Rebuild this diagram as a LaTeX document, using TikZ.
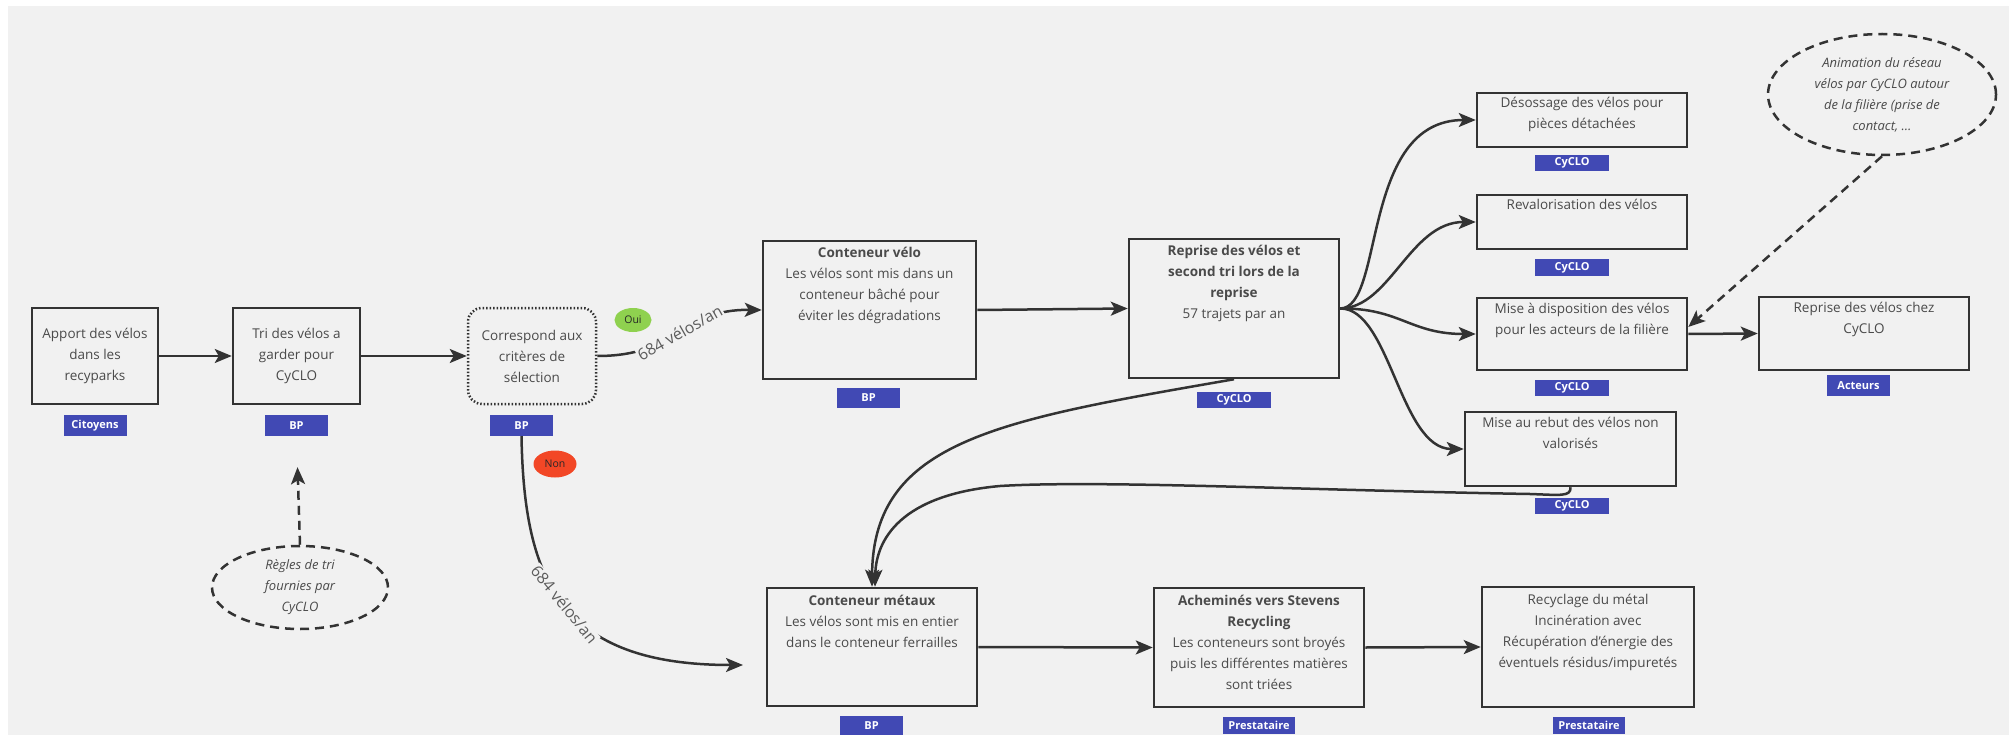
\documentclass[tikz,border=0pt]{standalone}
\usepackage{fontspec}
\setmainfont{Open Sans}
\usetikzlibrary{arrows.meta,shapes.geometric}
\definecolor{bgc}{HTML}{F1F1F1}
\definecolor{linec}{HTML}{333333}
\definecolor{txtc}{HTML}{4A4A4A}
\definecolor{tagblue}{HTML}{4149B4}
\definecolor{ouig}{HTML}{8FD14F}
\definecolor{nonr}{HTML}{F24726}
\begin{document}
\begin{tikzpicture}[x=1pt,y=-1pt,
  box/.style={draw=linec, line width=2.5pt, rectangle, inner sep=0pt},
  ctxt/.style={align=center, text=txtc, font=\fontsize{13.5}{21}\selectfont},
  ttxt/.style={anchor=north, align=center, text=txtc, inner sep=0pt, font=\fontsize{13.5}{21}\selectfont},
  tag/.style={fill=tagblue, text=white, inner sep=0pt, font=\fontsize{11}{11}\selectfont\bfseries},
  conn/.style={draw=linec, line width=2.5pt, -{Stealth[length=17pt,width=14pt,inset=4pt]}},
  dconn/.style={conn, dash pattern=on 9pt off 6pt},
  note/.style={draw=linec, line width=2.5pt, dash pattern=on 9pt off 6pt, ellipse, inner sep=0pt, align=center, text=txtc, font=\fontsize{13}{21}\selectfont\itshape},
  flowlbl/.style={fill=bgc, inner sep=1pt, text=txtc!90, font=\fontsize{16}{16}\selectfont},
  pill/.style={ellipse, inner sep=0pt, text=black!85, font=\fontsize{10.5}{10.5}\selectfont}
]
\useasboundingbox (0,0) rectangle (2009,735);
\fill[bgc] (8,6) rectangle (2009,735);

% --- boxes ---
\node[box, ctxt, minimum width=126pt, minimum height=96pt] (apport) at (95,356) {Apport des vélos\\dans les\\recyparks};
\node[box, ctxt, minimum width=127pt, minimum height=96pt] (tri) at (296.5,356) {Tri des vélos a\\garder pour\\CyCLO};
\node[draw=linec, line width=2.5pt, dash pattern=on 1.5pt off 2pt, rounded corners=14pt, inner sep=0pt, ctxt, minimum width=128pt, minimum height=96pt] (corr) at (532,356) {Correspond aux\\critères de\\sélection};

\node[box, minimum width=213pt, minimum height=138pt] (velo) at (869.5,310) {};
\node[ttxt, yshift=-7pt] (velotxt) at (velo.north) {\textbf{Conteneur vélo}\\Les vélos sont mis dans un\\conteneur bâché pour\\éviter les dégradations};

\node[box, minimum width=210pt, minimum height=139pt] (reprise) at (1234,308.5) {};
\node[ttxt, yshift=-7pt] (reprisetxt) at (reprise.north) {\textbf{Reprise des vélos et}\\\textbf{second tri lors de la}\\\textbf{reprise}\\57 trajets par an};

\node[box, minimum width=210pt, minimum height=54pt] (deso) at (1582,120) {};
\node[ttxt, yshift=-5pt] (desotxt) at (deso.north) {Désossage des vélos pour\\pièces détachées};

\node[box, minimum width=210pt, minimum height=54pt] (reval) at (1582,222) {};
\node[ttxt, yshift=-5pt] (revaltxt) at (reval.north) {Revalorisation des vélos};

\node[box, minimum width=210pt, minimum height=72pt] (dispo) at (1582,334) {};
\node[ttxt, yshift=-6pt] (dispotxt) at (dispo.north) {Mise à disposition des vélos\\pour les acteurs de la filière};

\node[box, minimum width=211pt, minimum height=74pt] (rebut) at (1570.5,449) {};
\node[ttxt, yshift=-6pt] (rebuttxt) at (rebut.north) {Mise au rebut des vélos non\\valorisés};

\node[box, minimum width=210pt, minimum height=73pt] (chez) at (1864,333.5) {};
\node[ttxt, yshift=-6pt] (cheztxt) at (chez.north) {Reprise des vélos chez\\CyCLO};

\node[box, minimum width=210pt, minimum height=118pt] (metaux) at (872,647) {};
\node[ttxt, yshift=-8pt] (metauxtxt) at (metaux.north) {\textbf{Conteneur métaux}\\Les vélos sont mis en entier\\dans le conteneur ferrailles};

\node[box, minimum width=210pt, minimum height=119pt] (achem) at (1259,647.5) {};
\node[ttxt, yshift=-8pt] (achemtxt) at (achem.north) {\textbf{Acheminés vers Stevens}\\\textbf{Recycling}\\Les conteneurs sont broyés\\puis les différentes matières\\sont triées};

\node[box, minimum width=212pt, minimum height=120pt] (recyc) at (1588,647) {};
\node[ttxt, yshift=-8pt] (recyctxt) at (recyc.north) {Recyclage du métal\\Incinération avec\\Récupération d'énergie des\\éventuels résidus/impuretés};

% --- notes ---
\node[note, minimum width=176pt, minimum height=83pt] (regles) at (300,587.5) {Règles de tri\\fournies par\\CyCLO};
\node[note, minimum width=228pt, minimum height=121pt] (anim) at (1882,94.5) {Animation du réseau\\vélos par CyCLO autour\\de la filière (prise de\\contact, …};

% --- tags ---
\node[tag, minimum width=63pt, minimum height=21pt] (tCit) at (95,425.5) {Citoyens};
\node[tag, minimum width=63pt, minimum height=21pt] (tTri) at (296.5,425.5) {BP};
\node[tag, minimum width=63pt, minimum height=21pt] (tCorr) at (521.5,425.5) {BP};
\node[tag, minimum width=63pt, minimum height=20pt] (tVelo) at (868.5,398) {BP};
\node[tag, minimum width=74pt, minimum height=16pt] (tRep) at (1234,400) {CyCLO};
\node[tag, minimum width=74pt, minimum height=16pt] (tDeso) at (1572,163) {CyCLO};
\node[tag, minimum width=74pt, minimum height=16pt] (tReval) at (1572,267.5) {CyCLO};
\node[tag, minimum width=74pt, minimum height=16pt] (tDispo) at (1572,388) {CyCLO};
\node[tag, minimum width=74pt, minimum height=16pt] (tRebut) at (1572,506) {CyCLO};
\node[tag, minimum width=63pt, minimum height=21pt] (tChez) at (1858.5,385.5) {Acteurs};
\node[tag, minimum width=63pt, minimum height=20pt] (tMet) at (871.5,726) {BP};
\node[tag, minimum width=72pt, minimum height=17pt] (tAch) at (1259,725) {Prestataire};
\node[tag, minimum width=72pt, minimum height=17pt] (tRec) at (1589,725) {Prestataire};

% --- oui / non ---
\node[pill, fill=ouig, minimum width=37pt, minimum height=24pt] (oui) at (633,320) {Oui};
\node[pill, fill=nonr, minimum width=43pt, minimum height=27pt] (non) at (555,464) {Non};

\coordinate (nonend) at (743,665);

% --- connectors ---
\draw[conn] (apport.east) -- (tri.west);
\draw[conn] (tri.east) -- (corr.west);
\draw[conn] (corr.east) .. controls (680,356) and (680,309) .. node[flowlbl, sloped] (lOui) {684 vélos/an} (velo.west);
\draw[conn] (tCorr.south) .. controls (524,580) and (560,665) .. node[flowlbl, sloped] (lNon) {684 vélos/an} (nonend);
\draw[conn] (velo.east) -- (reprise.west);
\draw[conn] (reprise.east) .. controls (1385,308) and (1360,120) .. (deso.west);
\draw[conn] (reprise.east) .. controls (1390,308) and (1410,222) .. (reval.west);
\draw[conn] (reprise.east) .. controls (1400,308) and (1410,334) .. (dispo.west);
\draw[conn] (reprise.east) .. controls (1390,308) and (1400,449) .. (rebut.west);
\draw[conn] (dispo.east) -- (chez.west);
\draw[conn] (metaux.east) -- (achem.west);
\draw[conn] (achem.east) -- (recyc.west);
\draw[conn] (reprise.south) .. controls (1000,420) and (873,440) .. (metaux.north);
\draw[conn] (rebut.south) .. controls (1571,497) and (1560,495) .. (1530,494)
   .. controls (1300,490) and (1100,480) .. (1000,486)
   .. controls (900,495) and (876,540) .. ([xshift=3pt]metaux.north);
\draw[dconn, shorten >=31pt] (regles.north) -- (tTri.south);
\draw[dconn] (anim.south) -- ([yshift=7pt]dispo.east);
\end{tikzpicture}
\end{document}
